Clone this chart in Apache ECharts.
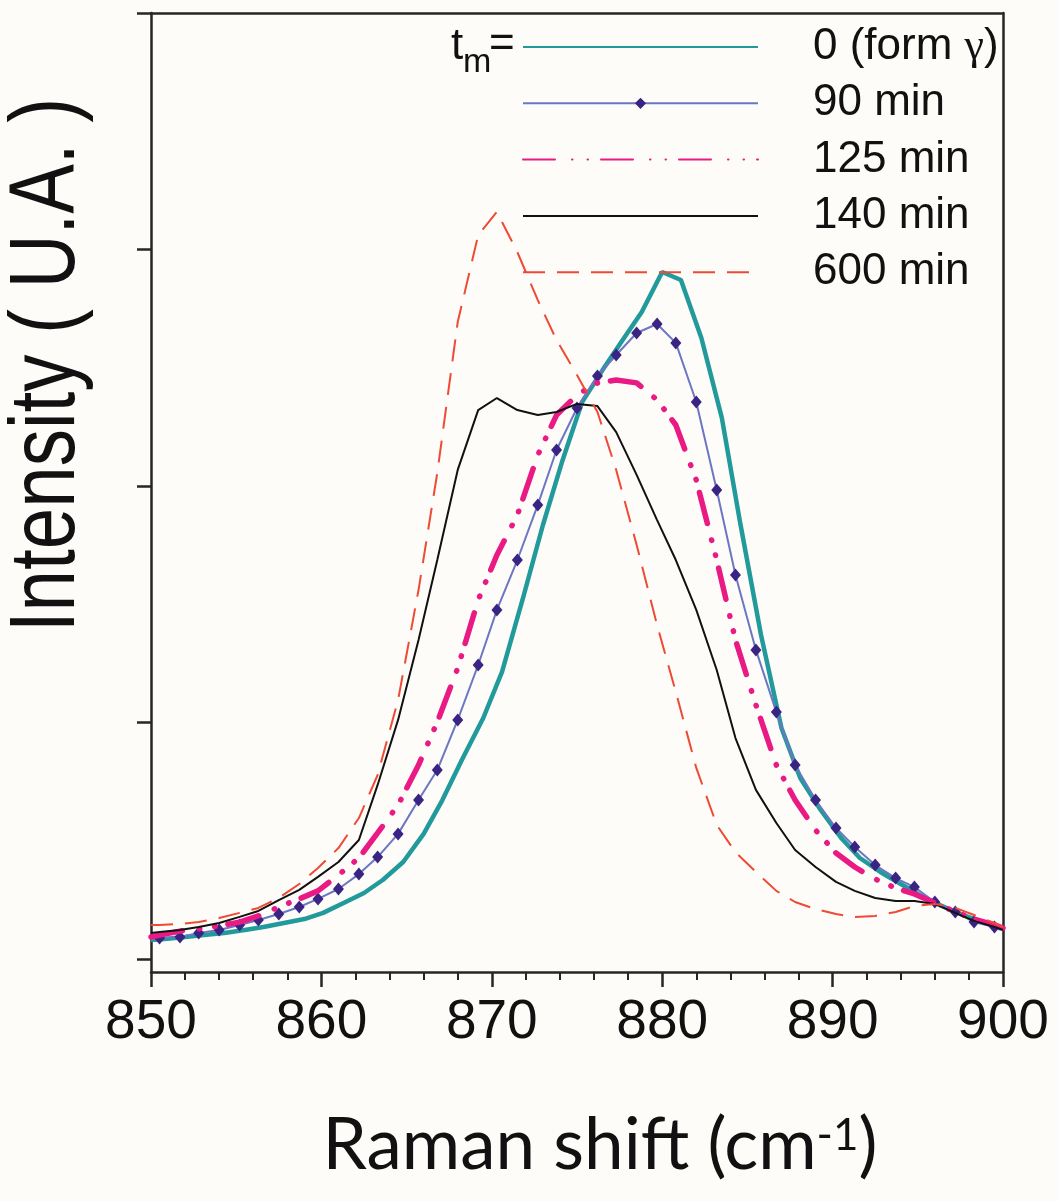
<!DOCTYPE html>
<html><head><meta charset="utf-8">
<script src="https://cdn.jsdelivr.net/npm/echarts@6/dist/echarts.min.js"></script>
<style>html,body{margin:0;padding:0;background:#fdfcf8;}#c{width:1058px;height:1201px;}</style>
</head><body><div id="c"></div>
<script>
// ---- data ----
const seriesNames = ['0 (form γ)', '90 min', '125 min', '140 min', '600 min'];
const xTickLabels = ['850', '860', '870', '880', '890', '900'];
const yTickValues = [0, 1, 2, 3, 4];

// Raman shift sampling of the form-γ spectrum (cm-1)
const shiftTeal = [850.0, 850.8, 852.0, 853.1, 854.3, 855.5, 856.6, 857.8, 859.0, 860.1, 861.3, 862.5, 863.6, 864.8, 866.0, 867.1, 868.3, 869.5, 870.6, 871.8, 873.0, 874.1, 875.3, 876.5, 877.6, 878.8, 880.0, 881.1, 882.3, 883.5, 884.6, 885.8, 887.0, 888.1, 889.3, 890.5, 891.6, 892.8, 894.0, 895.1, 896.3, 897.5, 898.6, 899.8, 900.0];
const formGamma = [0.080, 0.085, 0.093, 0.101, 0.110, 0.123, 0.135, 0.152, 0.169, 0.195, 0.237, 0.279, 0.334, 0.410, 0.529, 0.672, 0.850, 1.019, 1.214, 1.518, 1.835, 2.097, 2.355, 2.490, 2.609, 2.736, 2.905, 2.871, 2.626, 2.288, 1.835, 1.370, 0.977, 0.765, 0.630, 0.512, 0.427, 0.368, 0.317, 0.271, 0.228, 0.190, 0.161, 0.131, 0.127];

// Raman shift sampling of the milled spectra (cm-1)
const shiftMilled = [850.0, 850.5, 851.7, 852.8, 854.0, 855.2, 856.3, 857.5, 858.7, 859.8, 861.0, 862.2, 863.3, 864.5, 865.7, 866.8, 868.0, 869.2, 870.3, 871.5, 872.7, 873.8, 875.0, 876.2, 877.3, 878.5, 879.7, 880.8, 882.0, 883.2, 884.3, 885.5, 886.7, 887.8, 889.0, 890.2, 891.3, 892.5, 893.7, 894.8, 896.0, 897.2, 898.3, 899.5, 900.0];
const min90 = [0.085, 0.089, 0.093, 0.110, 0.123, 0.144, 0.165, 0.190, 0.220, 0.254, 0.296, 0.359, 0.431, 0.529, 0.672, 0.799, 1.011, 1.243, 1.476, 1.687, 1.920, 2.152, 2.330, 2.465, 2.554, 2.647, 2.685, 2.605, 2.355, 1.983, 1.624, 1.307, 1.044, 0.820, 0.672, 0.554, 0.474, 0.397, 0.342, 0.304, 0.241, 0.199, 0.156, 0.135, 0.123];
const min125 = [0.093, 0.101, 0.118, 0.127, 0.140, 0.156, 0.182, 0.220, 0.254, 0.288, 0.355, 0.427, 0.533, 0.651, 0.820, 1.002, 1.230, 1.518, 1.708, 1.877, 2.131, 2.300, 2.385, 2.436, 2.448, 2.436, 2.364, 2.258, 2.025, 1.687, 1.349, 1.074, 0.820, 0.672, 0.545, 0.448, 0.389, 0.338, 0.300, 0.275, 0.237, 0.199, 0.169, 0.144, 0.131];
const min140 = [0.110, 0.114, 0.123, 0.135, 0.152, 0.178, 0.203, 0.249, 0.292, 0.347, 0.410, 0.503, 0.736, 1.011, 1.349, 1.687, 2.068, 2.321, 2.372, 2.321, 2.300, 2.313, 2.347, 2.338, 2.228, 2.047, 1.856, 1.687, 1.476, 1.222, 0.934, 0.715, 0.575, 0.461, 0.389, 0.326, 0.288, 0.258, 0.245, 0.245, 0.233, 0.195, 0.161, 0.135, 0.123];
const min600 = [0.144, 0.144, 0.148, 0.156, 0.173, 0.195, 0.216, 0.258, 0.317, 0.385, 0.469, 0.596, 0.778, 1.095, 1.560, 2.055, 2.693, 3.061, 3.159, 2.989, 2.786, 2.617, 2.469, 2.313, 2.068, 1.751, 1.412, 1.129, 0.808, 0.567, 0.452, 0.368, 0.288, 0.241, 0.211, 0.190, 0.178, 0.182, 0.199, 0.224, 0.233, 0.216, 0.186, 0.152, 0.135];

// ---- chart ----
const AX = '#262626';
const pairs = (xs, ys) => xs.map((x, i) => [x, ys[i]]);
const markerData = pairs(shiftMilled, min90).map((p, i, a) =>
  (i === 0 || i === a.length - 1) ? { value: p, symbol: 'none' } : p);
const noMarker = { opacity: 0 };

const chart = echarts.init(document.getElementById('c'), null, { renderer: 'canvas' });
chart.setOption({
  animation: false,
  backgroundColor: '#fdfcf8',
  grid: { left: 151, right: 55, top: 13, bottom: 229, containLabel: false },
  xAxis: [{
    type: 'value', min: 850, max: 900, interval: 10,
    axisLine: { show: true, onZero: false, lineStyle: { color: AX, width: 2.5 } },
    axisTick: { show: true, inside: false, length: 15, lineStyle: { color: AX, width: 2.5 } },
    minorTick: { show: true, splitNumber: 5, length: 8, lineStyle: { color: AX, width: 2 } },
    splitLine: { show: false },
    axisLabel: {
      show: true, margin: 23, fontSize: 55, fontFamily: 'Liberation Sans, Arial, sans-serif', color: '#111',
      formatter: v => xTickLabels[Math.round((v - 850) / 10)] ?? ''
    }
  }, {
    type: 'value', position: 'top', min: 850, max: 900,
    axisLine: { show: true, onZero: false, lineStyle: { color: AX, width: 2.5 } },
    axisTick: { show: false }, axisLabel: { show: false }, splitLine: { show: false }
  }],
  yAxis: [{
    type: 'value', min: -0.055, max: 4,
    axisLine: { show: true, onZero: false, lineStyle: { color: AX, width: 2.5 } },
    axisTick: { show: true, inside: false, length: 14, customValues: yTickValues, lineStyle: { color: AX, width: 2.5 } },
    axisLabel: { show: false, customValues: yTickValues },
    splitLine: { show: false }
  }, {
    type: 'value', position: 'right', min: -0.055, max: 4,
    axisLine: { show: true, onZero: false, lineStyle: { color: AX, width: 2.5 } },
    axisTick: { show: false }, axisLabel: { show: false }, splitLine: { show: false }
  }],
  legend: {
    orient: 'vertical', left: 522, top: 25, padding: 0,
    itemWidth: 235, itemHeight: 14, itemGap: 12.3, selectedMode: false,
    data: [
      { name: seriesNames[0], itemStyle: noMarker },
      { name: seriesNames[1] },
      { name: seriesNames[2], itemStyle: noMarker },
      { name: seriesNames[3], itemStyle: noMarker },
      { name: seriesNames[4], itemStyle: noMarker }
    ],
    formatter: name => name.replace('γ', '{g|γ}'),
    textStyle: {
      fontSize: 44, fontFamily: 'Liberation Sans, Arial, sans-serif', color: '#111', padding: [0, 0, 0, 50],
      rich: { g: { fontSize: 44, fontFamily: 'Liberation Serif', color: '#111' } }
    }
  },
  series: [{
    name: seriesNames[0], type: 'line', data: pairs(shiftTeal, formGamma), symbol: 'none', z: 2,
    lineStyle: { color: '#229a9b', width: 4.5 }, itemStyle: { color: '#229a9b' }
  }, {
    name: seriesNames[1], type: 'line', data: markerData, symbol: 'diamond', symbolSize: [11, 13],
    showAllSymbol: true, z: 3,
    lineStyle: { color: '#6c77c4', width: 2 }, itemStyle: { color: '#3a2483' }
  }, {
    name: seriesNames[2], type: 'line', data: pairs(shiftMilled, min125), symbol: 'none', z: 4,
    lineStyle: { color: '#ea1a84', width: 5.5, type: [32, 17, 0.5, 15, 0.5, 13], cap: 'round' },
    itemStyle: { color: '#ea1a84' }
  }, {
    name: seriesNames[3], type: 'line', data: pairs(shiftMilled, min140), symbol: 'none', z: 5,
    lineStyle: { color: '#111111', width: 2 }, itemStyle: { color: '#111111' }
  }, {
    name: seriesNames[4], type: 'line', data: pairs(shiftMilled, min600), symbol: 'none', z: 6,
    lineStyle: { color: '#ee4a35', width: 2, type: [22, 12] }, itemStyle: { color: '#ee4a35' }
  }],
  graphic: [{
    type: 'text', x: 49, y: 365, rotation: Math.PI / 2, scaleX: 0.81,
    style: { text: 'Intensity ( U.A. )', font: '92px "Liberation Sans", Arial, sans-serif', fill: '#111', align: 'center', verticalAlign: 'middle' }
  }, {
    type: 'text', x: 600, y: 1146,
    style: {
      text: '{a|Raman shift (cm}{s|-1}{a|)}', align: 'center', verticalAlign: 'middle',
      rich: {
        a: { fontSize: 71, fontFamily: 'Lato', fill: '#111', lineHeight: 80 },
        s: { fontSize: 44, fontFamily: 'Lato', fill: '#111', padding: [0, 0, 20, 0] }
      }
    }
  }, {
    type: 'text', x: 451, y: 47,
    style: { text: 't', font: '44px "Liberation Sans", Arial, sans-serif', fill: '#111', align: 'left', verticalAlign: 'middle' }
  }, {
    type: 'text', x: 463, y: 63,
    style: { text: 'm', font: '34px "Liberation Sans", Arial, sans-serif', fill: '#111', align: 'left', verticalAlign: 'middle' }
  }, {
    type: 'text', x: 489, y: 45,
    style: { text: '=', font: '44px "Liberation Sans", Arial, sans-serif', fill: '#111', align: 'left', verticalAlign: 'middle' }
  }]
});
</script>
</body></html>
